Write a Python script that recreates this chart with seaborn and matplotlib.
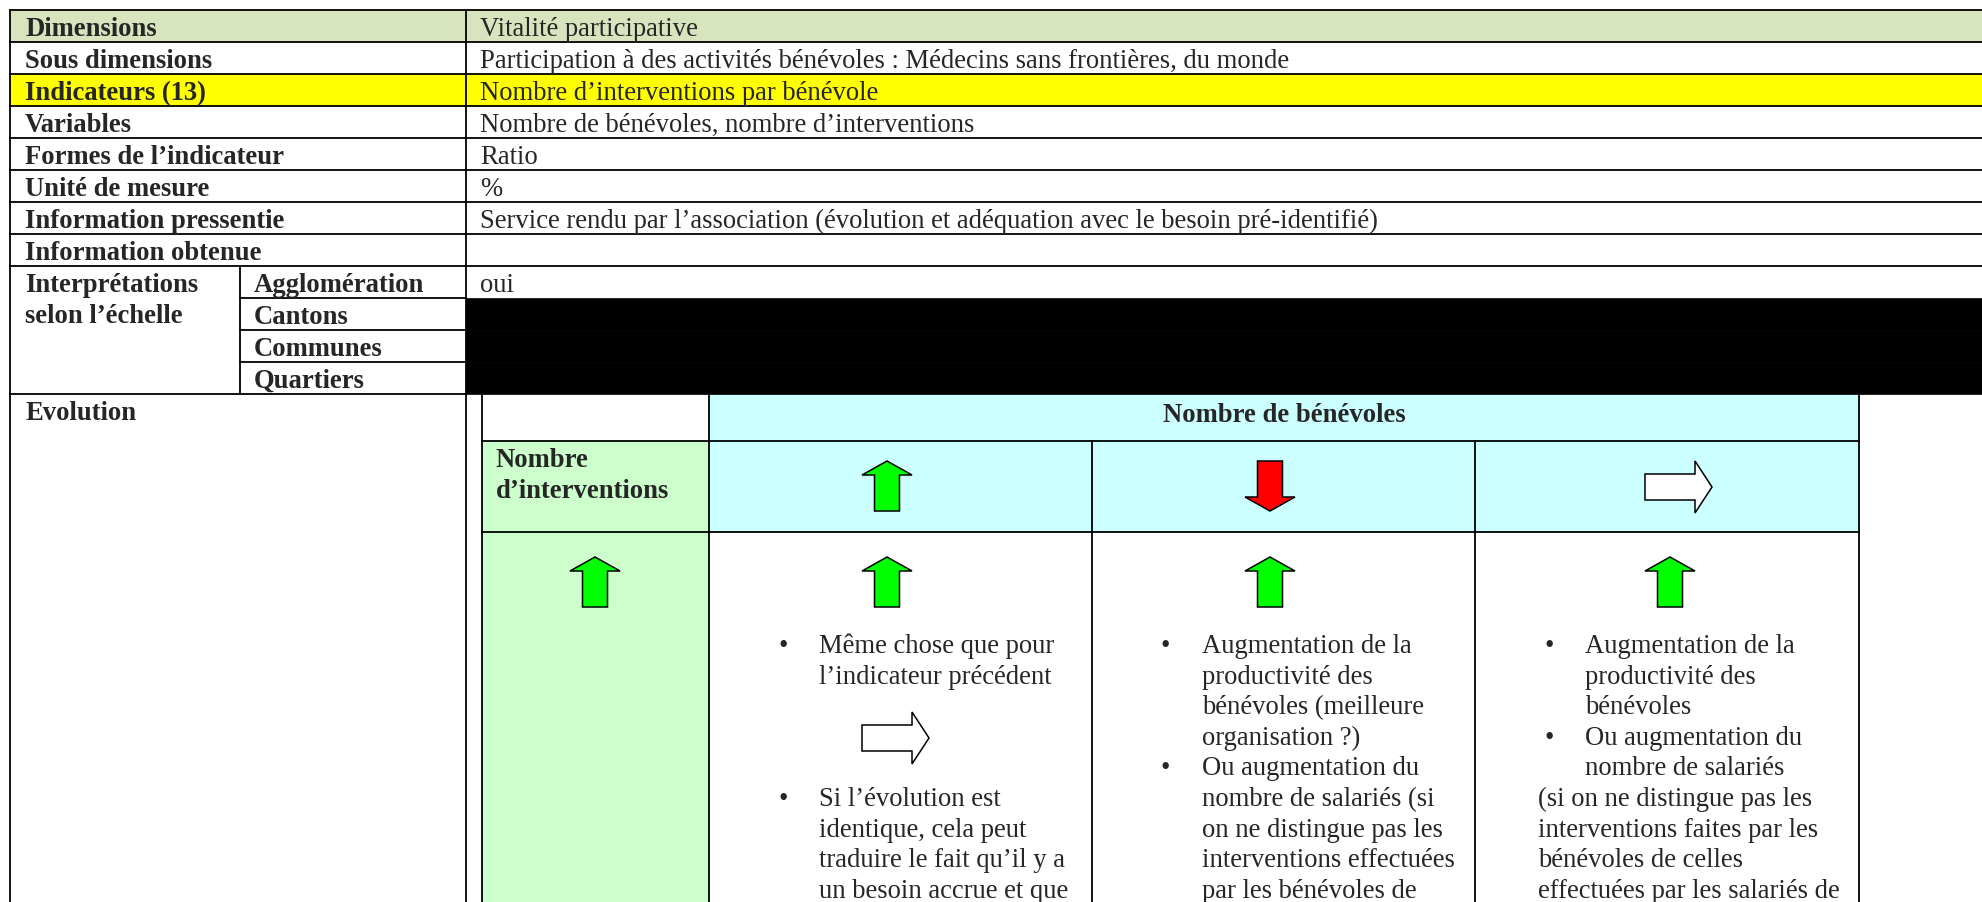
import matplotlib
matplotlib.use("Agg")
import matplotlib.pyplot as plt
import matplotlib.patches as mpatches
import seaborn as sns

# --- contenu du tableau ---
row_labels = ["Dimensions", "Sous dimensions", "Indicateurs (13)", "Variables",
              "Formes de l’indicateur", "Unité de mesure",
              "Information pressentie", "Information obtenue"]
row_values = ["Vitalité participative",
              "Participation à des activités bénévoles : Médecins sans frontières, du monde",
              "Nombre d’interventions par bénévole",
              "Nombre de bénévoles, nombre d’interventions",
              "Ratio", "%",
              "Service rendu par l’association (évolution et adéquation avec le besoin pré-identifié)",
              ""]
row_fills = ["#D7E4BD", "white", "#FFFF00", "white", "white", "white", "white", "white"]

scale_title = ["Interprétations", "selon l’échelle"]
scale_labels = ["Agglomération", "Cantons", "Communes", "Quartiers"]
scale_values = ["oui", None, None, None]   # None = masqué (noir)

evolution_label = "Evolution"
col_header = "Nombre de bénévoles"
row_header = ["Nombre", "d’interventions"]
header_arrows = ["up", "down", "right"]
body_arrows = ["up", "up", "up", "up"]

# texte des cellules : (slot de ligne, type, texte)
cell_texts = [
    [(0, "b", "Même chose que pour"), (1, "", "l’indicateur précédent"),
     (5, "b", "Si l’évolution est"), (6, "", "identique, cela peut"),
     (7, "", "traduire le fait qu’il y a"), (8, "", "un besoin accrue et que")],
    [(0, "b", "Augmentation de la"), (1, "", "productivité des"),
     (2, "", "bénévoles (meilleure"), (3, "", "organisation ?)"),
     (4, "b", "Ou augmentation du"), (5, "", "nombre de salariés (si"),
     (6, "", "on ne distingue pas les"), (7, "", "interventions effectuées"),
     (8, "", "par les bénévoles de")],
    [(0, "b", "Augmentation de la"), (1, "", "productivité des"),
     (2, "", "bénévoles"), (3, "b", "Ou augmentation du"),
     (4, "", "nombre de salariés"), (5, "p", "(si on ne distingue pas les"),
     (6, "p", "interventions faites par les"), (7, "p", "bénévoles de celles"),
     (8, "p", "effectuées par les salariés de")],
]

sns.set_style("white")
plt.rcParams['font.family'] = ['Liberation Serif', 'DejaVu Serif']

W, H = 1982, 903
fig = plt.figure(figsize=(W / 100, H / 100), dpi=100)
ax = fig.add_axes([0, 0, 1, 1])
ax.set_xlim(0, W)
ax.set_ylim(H, 0)
ax.axis("off")

FS = 19.2
LW = 1.3
GREEN, RED = "#00FF00", "#FF0000"
CYAN, LGREEN = "#CCFFFF", "#CCFFCC"


def rect(x0, y0, x1, y1, color):
    ax.add_patch(mpatches.Rectangle((x0, y0), x1 - x0, y1 - y0, facecolor=color,
                                    edgecolor="none", zorder=1))


def hline(y, x0, x1):
    ax.plot([x0, x1], [y, y], color="black", lw=LW, zorder=3, solid_capstyle="projecting")


def vline(x, y0, y1):
    ax.plot([x, x], [y0, y1], color="black", lw=LW, zorder=3, solid_capstyle="projecting")


def arrow(kind, x, y, color):
    # x, y : coin haut-gauche de la flèche
    if kind in ("up", "down"):
        w, h, sw, hh = 50, 50, 25, 14
        pts = [(x, y + hh), (x + w / 2, y), (x + w, y + hh), (x + (w + sw) / 2, y + hh),
               (x + (w + sw) / 2, y + h), (x + (w - sw) / 2, y + h), (x + (w - sw) / 2, y + hh)]
        if kind == "down":
            pts = [(px, 2 * y + h - py) for px, py in pts]
    else:
        rw, rh, hw, hh = 50, 26, 17, 52
        cy = y + hh / 2
        pts = [(x, cy - rh / 2), (x + rw, cy - rh / 2), (x + rw, y), (x + rw + hw, cy),
               (x + rw, y + hh), (x + rw, cy + rh / 2), (x, cy + rh / 2)]
    ax.add_patch(mpatches.Polygon(pts, closed=True, facecolor=color, edgecolor="black",
                                  lw=1.1, zorder=4, joinstyle="miter"))


# --- tableau principal ---
X0, XC1, XC2 = 9.5, 240, 466
top, RH = 11, 32
n = len(row_labels)
for i, (lab, val, fc) in enumerate(zip(row_labels, row_values, row_fills)):
    y = top + i * RH
    rect(X0, y, W, y + RH, fc)
    ax.text(25, y + 25, lab, fontsize=FS, fontweight="bold", va="baseline", zorder=5)
    ax.text(480, y + 25, val, fontsize=FS, va="baseline", zorder=5)
    hline(y, X0, W)
y_sc = top + n * RH
hline(y_sc, X0, W)

ax.text(25, y_sc + 25, scale_title[0], fontsize=FS, fontweight="bold", va="baseline", zorder=5)
ax.text(25, y_sc + 25 + 30.6, scale_title[1], fontsize=FS, fontweight="bold", va="baseline", zorder=5)
for j, (lab, val) in enumerate(zip(scale_labels, scale_values)):
    y = y_sc + j * RH
    ax.text(254, y + 25, lab, fontsize=FS, fontweight="bold", va="baseline", zorder=5)
    if val is None:
        ax.add_patch(mpatches.Rectangle((XC2, y), W - XC2, RH, facecolor="black",
                                        edgecolor="black", lw=0.5, zorder=4))
    else:
        ax.text(480, y + 25, val, fontsize=FS, va="baseline", zorder=5)
    if j > 0:
        hline(y, XC1, XC2)
y_ev = y_sc + len(scale_labels) * RH
hline(y_ev, X0, XC2)
vline(XC1, y_sc, y_ev)
vline(X0, top, H + 5)
vline(XC2, top, H + 5)
ax.text(25, y_ev + 25, evolution_label, fontsize=FS, fontweight="bold", va="baseline", zorder=5)

# --- tableau interne (évolution) ---
cols = [482, 709, 1092, 1475, 1859]
r0, r1, r2 = y_ev, 442, 533
rect(cols[1], r0, cols[-1], r2, CYAN)
rect(cols[0], r1, cols[1], H, LGREEN)
vline(cols[0], r0, H + 5)
vline(cols[-1], r0, H + 5)
vline(cols[1], r0, H + 5)
for c in cols[2:-1]:
    vline(c, r1, H + 5)
hline(r1, cols[0], cols[-1])
hline(r2, cols[0], cols[-1])

ax.text((cols[1] + cols[-1]) / 2, r0 + 27, col_header, fontsize=FS, fontweight="bold",
        ha="center", va="baseline", zorder=5)
ax.text(496, r1 + 25, row_header[0], fontsize=FS, fontweight="bold", va="baseline", zorder=5)
ax.text(496, r1 + 56.5, row_header[1], fontsize=FS, fontweight="bold", va="baseline", zorder=5)

arrow_x = [570, 862, 1245, 1645]
arrow_col = {"up": GREEN, "down": RED, "right": "white"}
for k, kind in enumerate(header_arrows):
    arrow(kind, arrow_x[k + 1], r1 + 20, arrow_col[kind])
for k, kind in enumerate(body_arrows):
    arrow(kind, arrow_x[k], r2 + 25, arrow_col[kind])
arrow("right", arrow_x[1], 713, "white")

base0, pitch = 653, 30.6
for k, items in enumerate(cell_texts):
    left = cols[k + 1]
    for slot, kind, txt in items:
        yb = base0 + slot * pitch
        if kind == "p":
            ax.text(left + 63, yb, txt, fontsize=FS, va="baseline", zorder=5)
        else:
            ax.text(left + 110, yb, txt, fontsize=FS, va="baseline", zorder=5)
        if kind == "b":
            ax.text(left + 69, yb, "•", fontsize=FS, va="baseline", zorder=5)

fig.savefig("out.png", dpi=100)
